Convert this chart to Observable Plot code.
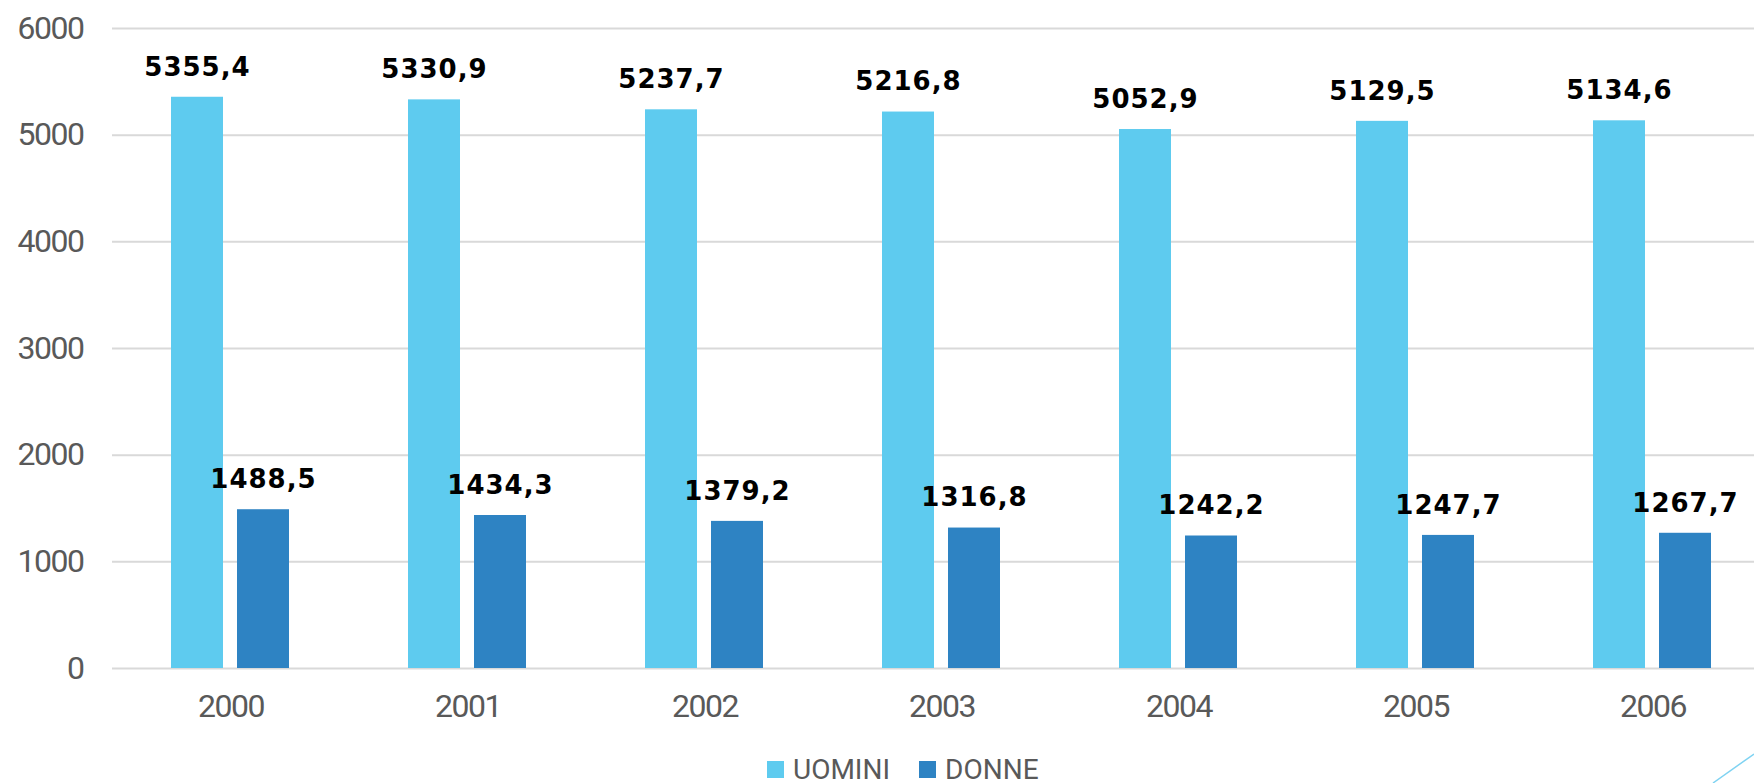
<!DOCTYPE html>
<html><head><meta charset="utf-8">
<script src="https://cdn.jsdelivr.net/npm/d3@7"></script>
<script src="https://cdn.jsdelivr.net/npm/@observablehq/plot@0.6"></script>
<style>
html,body{margin:0;padding:0;background:#fff;}
body{width:1754px;height:783px;position:relative;overflow:hidden;}
#chart svg{display:block;}
#legend{position:absolute;left:767px;top:752px;height:34px;display:flex;align-items:center;font-family:Roboto,sans-serif;font-size:28px;color:#595959;}
#legend .item{display:flex;align-items:center;margin-right:29px;}
#legend .sw{width:17px;height:17px;margin-right:9px;}
#deco{position:absolute;right:0;bottom:0;}
</style></head><body>
<div id="chart"></div>
<div id="legend"></div>
<svg id="deco" width="60" height="40"><line x1="19" y1="40" x2="60" y2="11" stroke="#7fd3f2" stroke-width="1.5"/></svg>
<script>
const years = ["2000", "2001", "2002", "2003", "2004", "2005", "2006"];
const series = ["UOMINI", "DONNE"];
const uomini = [5355.4, 5330.9, 5237.7, 5216.8, 5052.9, 5129.5, 5134.6];
const donne = [1488.5, 1434.3, 1379.2, 1316.8, 1242.2, 1247.7, 1267.7];
const colors = ["#5ECBEF", "#2E83C3"];
const yTicks = [0, 1000, 2000, 3000, 4000, 5000, 6000];

const data = years.flatMap((y, i) => [
  {year: y, series: series[0], value: uomini[i]},
  {year: y, series: series[1], value: donne[i]}
]);
const fmt = v => v.toFixed(1).replace(".", ",");

const chart = Plot.plot({
  width: 1754,
  height: 745,
  marginLeft: 110,
  marginRight: -19,
  marginTop: 28,
  marginBottom: 77,
  style: {fontFamily: "Roboto, sans-serif", fontSize: "32px", color: "#595959", background: "#fff", letterSpacing: "-1.5px"},
  fx: {domain: years, padding: 0, label: null, tickSize: 0, tickPadding: 26, axis: "bottom"},
  x: {domain: series, paddingInner: 0.209, paddingOuter: 0.877, axis: null},
  y: {domain: [0, 6000], ticks: yTicks, tickSize: 0, tickPadding: 29, label: null, tickFormat: d => String(d)},
  color: {domain: series, range: colors},
  marks: [
    Plot.ruleY(yTicks, {stroke: "#d9d9d9", strokeWidth: 2}),
    Plot.barY(data, {fx: "year", x: "series", y: "value", fill: "series"}),
    Plot.text(data, {fx: "year", x: "series", y: "value", text: d => fmt(d.value),
      dy: -30, fill: "#000", fontWeight: "bold", fontSize: 26, fontFamily: "DejaVu Sans"})
  ]
});
chart.querySelectorAll("g[aria-label='text'] text").forEach(t => t.style.letterSpacing = "1px");
document.getElementById("chart").appendChild(chart);

const legend = document.getElementById("legend");
series.forEach((s, i) => {
  const item = document.createElement("div");
  item.className = "item";
  const sw = document.createElement("div");
  sw.className = "sw";
  sw.style.background = colors[i];
  const t = document.createElement("span");
  t.textContent = s;
  item.appendChild(sw);
  item.appendChild(t);
  legend.appendChild(item);
});
</script>
</body></html>
